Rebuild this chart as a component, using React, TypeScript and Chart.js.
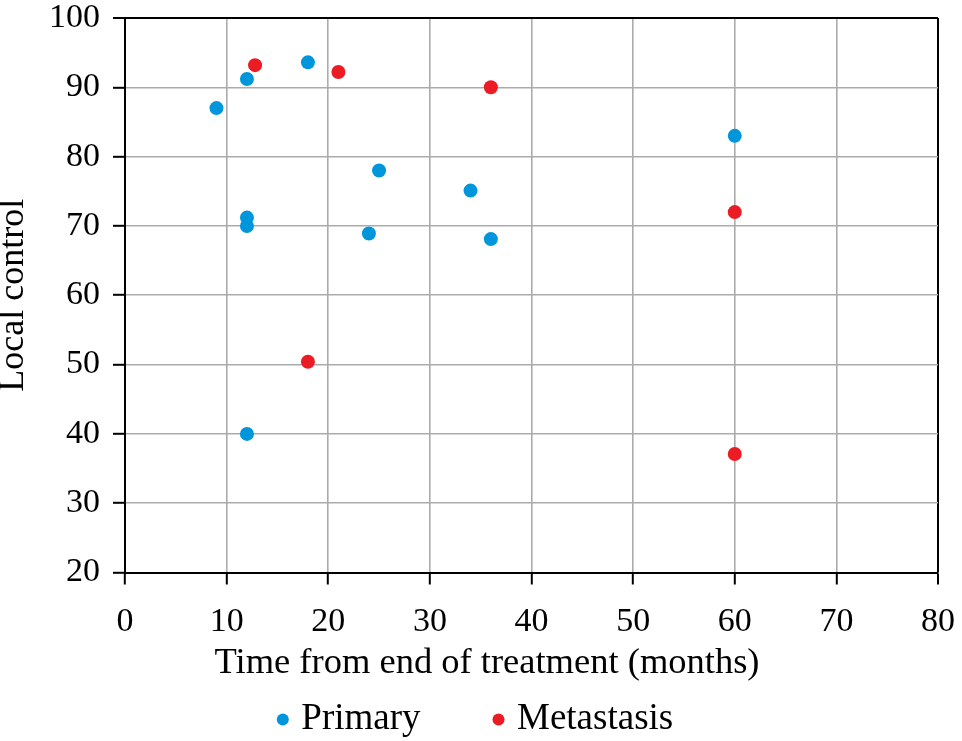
import React, { useEffect, useRef } from 'react';
import { Chart, registerables } from 'chart.js';

Chart.register(...registerables);

// ---- data ----
const seriesNames = ['Primary', 'Metastasis'];
const primaryX = [9, 12, 18, 25, 34, 12, 12, 24, 36, 60, 12];
const primaryY = [87, 91.2, 93.6, 78, 75.1, 71.2, 70, 68.9, 68.1, 83, 40];
const metastasisX = [12.8, 21, 36, 60, 18, 60];
const metastasisY = [93.2, 92.2, 90, 72, 50.4, 37.1];
const xTickValues = [0, 10, 20, 30, 40, 50, 60, 70, 80];
const yTickValues = [20, 30, 40, 50, 60, 70, 80, 90, 100];
const xTitle = 'Time from end of treatment (months)';
const yTitle = 'Local control';

const FONT = "'Liberation Serif', 'Times New Roman', serif";
const BLUE = '#0096DB';
const RED = '#EC1C24';
const GRID = '#ababab';
const INK = '#000000';

const xTitlePlugin = {
  id: 'xTitleOffset',
  afterDraw(chart: any) {
    const ctx = chart.ctx;
    const area = chart.chartArea;
    ctx.save();
    ctx.font = `36.5px ${FONT}`;
    ctx.fillStyle = INK;
    ctx.textAlign = 'center';
    ctx.textBaseline = 'alphabetic';
    ctx.fillText(xTitle, chart.width / 2 + 6, area.bottom + 100.6);
    ctx.restore();
  },
};

export default function App() {
  const canvasRef = useRef<HTMLCanvasElement | null>(null);

  useEffect(() => {
    if (!canvasRef.current) return;
    const chart = new Chart(canvasRef.current, {
      type: 'scatter',
      data: {
        datasets: [
          {
            label: seriesNames[0],
            data: primaryX.map((x, i) => ({ x, y: primaryY[i] })),
            backgroundColor: BLUE,
            borderColor: BLUE,
            borderWidth: 0,
            pointRadius: 7,
            pointHoverRadius: 7,
            pointStyle: 'circle',
          },
          {
            label: seriesNames[1],
            data: metastasisX.map((x, i) => ({ x, y: metastasisY[i] })),
            backgroundColor: RED,
            borderColor: RED,
            borderWidth: 0,
            pointRadius: 7,
            pointHoverRadius: 7,
            pointStyle: 'circle',
          },
        ],
      },
      options: {
        animation: false,
        responsive: true,
        maintainAspectRatio: false,
        devicePixelRatio: 1,
        layout: { padding: { top: 18, right: 24, left: 18, bottom: -7 } },
        plugins: {
          tooltip: { enabled: false },
          legend: {
            position: 'bottom',
            title: {
              display: true,
              text: '',
              font: { family: FONT, size: 10, lineHeight: 0 },
              padding: { top: -15.5, bottom: 0 },
            },
            labels: {
              usePointStyle: true,
              pointStyle: 'circle',
              boxWidth: 0.01,
              boxHeight: 8.5,
              padding: 78,
              color: INK,
              font: { family: FONT, size: 37 },
            },
          },
        },
        scales: {
          x: {
            type: 'linear',
            min: 0,
            max: 80,
            afterBuildTicks: (s: any) => {
              s.ticks = xTickValues.map((v) => ({ value: v }));
            },
            afterFit: (s: any) => {
              s.height = 66;
              s.paddingLeft = 0;
              s.paddingRight = 0;
            },
            ticks: {
              color: INK,
              padding: 17,
              font: { family: FONT, size: 34 },
              maxRotation: 0,
              autoSkip: false,
            },
            grid: {
              color: (c: any) => (c.tick && c.tick.value === 80 ? '#000' : GRID),
              lineWidth: (c: any) => (c.tick && c.tick.value === 80 ? 2 : 1.6),
              tickColor: '#000',
              tickLength: 12,
              tickWidth: 2,
            },
            border: { display: true, color: '#000', width: 2 },
            title: { display: false },
          },
          y: {
            type: 'linear',
            min: 20,
            max: 100,
            afterBuildTicks: (s: any) => {
              s.ticks = yTickValues.map((v) => ({ value: v }));
            },
            afterFit: (s: any) => {
              s.width = 107;
              s.paddingTop = 0;
              s.paddingBottom = 0;
            },
            ticks: {
              color: INK,
              padding: 13,
              font: { family: FONT, size: 34 },
              autoSkip: false,
            },
            grid: {
              color: (c: any) => (c.tick && c.tick.value === 100 ? '#000' : GRID),
              lineWidth: (c: any) => (c.tick && c.tick.value === 100 ? 2 : 1.6),
              tickColor: '#000',
              tickLength: 12,
              tickWidth: 2,
            },
            border: { display: true, color: '#000', width: 2 },
            title: {
              display: true,
              text: yTitle,
              color: INK,
              font: { family: FONT, size: 36 },
              padding: { top: -26, bottom: 0 },
            },
          },
        },
      },
      plugins: [xTitlePlugin],
    } as any);
    return () => chart.destroy();
  }, []);

  return (
    <div style={{ position: 'absolute', left: 0, top: 0, width: 962, height: 741, background: '#fff' }}>
      <canvas ref={canvasRef} />
    </div>
  );
}
